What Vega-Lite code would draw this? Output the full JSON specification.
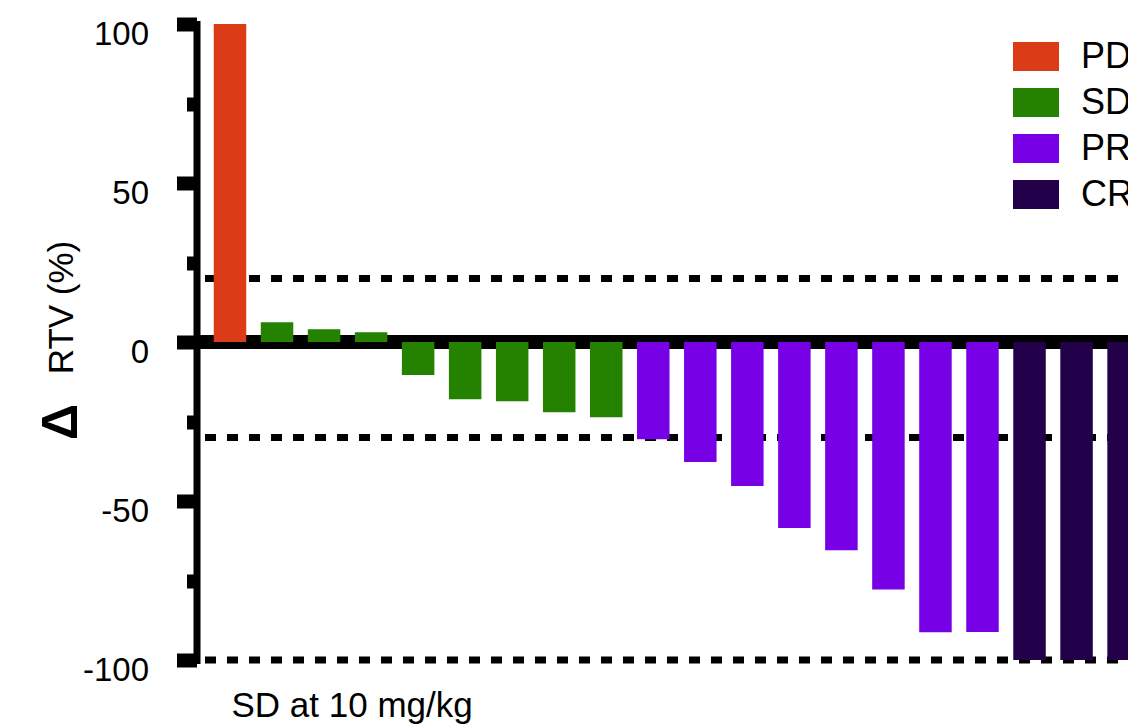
{
  "$schema": "https://vega.github.io/schema/vega-lite/v6.json",
  "width": 931.5,
  "height": 636,
  "autosize": {"type": "none"},
  "padding": {"left": 196.5, "top": 24, "right": 0, "bottom": 67},
  "config": {"font": "Liberation Sans", "view": {"stroke": null}, "axis": {"grid": false}},
  "title": {"text": "Δ", "orient": "left", "anchor": "middle", "frame": "group", "fontSize": 50, "fontWeight": "bold", "color": "black", "offset": -42, "dx": -80},
  "encoding": {
    "y": {
      "field": "v",
      "type": "quantitative",
      "scale": {"domain": [-100, 100], "nice": false, "zero": false},
      "axis": {
        "values": [-100, -75, -50, -25, 0, 25, 50, 75, 100],
        "labelExpr": "datum.value % 50 === 0 ? toString(datum.value) : ''",
        "domainColor": "black",
        "domainWidth": 7,
        "domainCap": "square",
        "tickColor": "black",
        "tickWidth": 14,
        "tickSize": {"condition": {"test": "datum.value % 50 === 0", "value": 20}, "value": 10},
        "labelFontSize": 33,
        "labelColor": "black",
        "labelPadding": 28,
        "labelOffset": 10,
        "labelBaseline": "middle",
        "labelOverlap": false,
        "labelBound": false,
        "title": "RTV (%)",
        "titleFontSize": 35,
        "titleFontWeight": "normal",
        "titleAngle": 270,
        "titleX": -124,
        "titleY": 283,
        "titleAlign": "center",
        "titleBaseline": "alphabetic",
        "titleColor": "black",
        "grid": false
      }
    }
  },
  "layer": [
    {
      "data": {"values": [{"v": 20}, {"v": -30}, {"v": -100}]},
      "mark": {"type": "rule", "strokeWidth": 7, "strokeDash": [11, 11], "strokeDashOffset": 12, "color": "black"}
    },
    {
      "data": {"values": [{"v": 0}]},
      "mark": {"type": "rule", "strokeWidth": 14, "color": "black"}
    },
    {
      "data": {"values": [
        {"n": 1, "resp": "PD", "v": 100},
        {"n": 2, "resp": "SD", "v": 6.2},
        {"n": 3, "resp": "SD", "v": 4.0},
        {"n": 4, "resp": "SD", "v": 3.1},
        {"n": 5, "resp": "SD", "v": -10.4},
        {"n": 6, "resp": "SD", "v": -18.0},
        {"n": 7, "resp": "SD", "v": -18.6},
        {"n": 8, "resp": "SD", "v": -22.1},
        {"n": 9, "resp": "SD", "v": -23.7},
        {"n": 10, "resp": "PR", "v": -30.6},
        {"n": 11, "resp": "PR", "v": -37.7},
        {"n": 12, "resp": "PR", "v": -45.3},
        {"n": 13, "resp": "PR", "v": -58.5},
        {"n": 14, "resp": "PR", "v": -65.5},
        {"n": 15, "resp": "PR", "v": -77.8},
        {"n": 16, "resp": "PR", "v": -91.3},
        {"n": 17, "resp": "PR", "v": -91.2},
        {"n": 18, "resp": "CR", "v": -100},
        {"n": 19, "resp": "CR", "v": -100},
        {"n": 20, "resp": "CR", "v": -100}
      ]},
      "mark": {"type": "bar", "size": 32.5, "clip": true},
      "encoding": {
        "x": {
          "field": "n",
          "type": "quantitative",
          "scale": {"domain": [0.2877, 20.094], "nice": false, "zero": false, "padding": 0},
          "axis": {
            "title": "SD at 10 mg/kg",
            "domain": false,
            "ticks": false,
            "labels": false,
            "grid": false,
            "titleX": 34.5,
            "titleY": 56,
            "titleAlign": "left",
            "titleAnchor": "start",
            "titleBaseline": "alphabetic",
            "titleFontSize": 35,
            "titleFontWeight": "normal",
            "titleColor": "black"
          }
        },
        "color": {
          "field": "resp",
          "type": "nominal",
          "scale": {"domain": ["PD", "SD", "PR", "CR"], "range": ["#DC3B17", "#248200", "#7800E6", "#23004A"]},
          "legend": {
            "title": null,
            "orient": "none",
            "legendX": 816.5,
            "legendY": 9.5,
            "padding": 0,
            "symbolType": "M-1,-0.63H1V0.63H-1Z",
            "symbolSize": 2116,
            "symbolStrokeWidth": 0,
            "symbolOpacity": 1,
            "labelFontSize": 36,
            "labelColor": "black",
            "labelOffset": 22,
            "labelLimit": 0,
            "rowPadding": 5
          }
        }
      }
    }
  ]
}
